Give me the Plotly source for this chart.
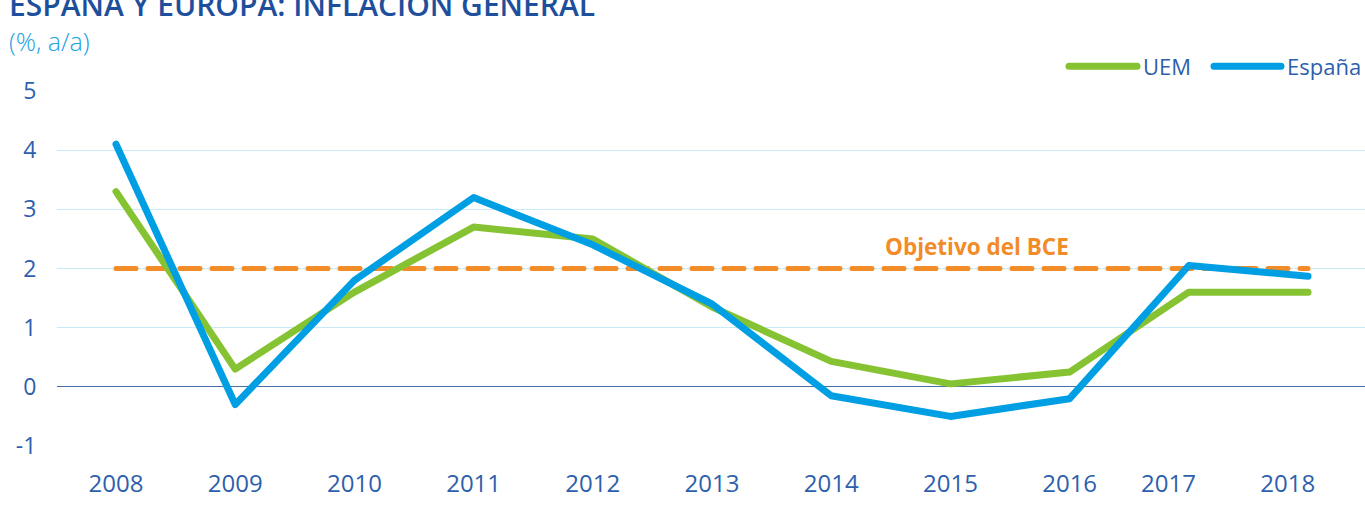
import plotly.graph_objects as go

years = [2008, 2009, 2010, 2011, 2012, 2013, 2014, 2015, 2016, 2017, 2018]
uem = [3.3, 0.3, 1.6, 2.7, 2.5, 1.35, 0.43, 0.05, 0.25, 1.6, 1.6]
espana = [4.1, -0.3, 1.8, 3.2, 2.4, 1.4, -0.15, -0.5, -0.2, 2.05, 1.87]
objetivo = [2.0] * len(years)

tick_vals = [2008, 2009, 2010, 2011, 2012, 2013, 2014, 2015, 2016, 2016.83, 2017.83]
tick_text = ["2008", "2009", "2010", "2011", "2012", "2013", "2014", "2015", "2016", "2017", "2018"]
y_ticks = [-1, 0, 1, 2, 3, 4, 5]
y_text = ["-1", "0", "1", "2", "3", "4", "5"]

GREEN = "#86c332"
BLUE = "#009fe3"
ORANGE = "#f28c28"
DARK = "#1e4f9c"
TICK = "#2e5fac"
FONT = "Open Sans"

fig = go.Figure()
fig.add_trace(go.Scatter(x=years, y=objetivo, mode="lines",
                         line=dict(color=ORANGE, width=5, dash="20px,12px"),
                         showlegend=False, hoverinfo="skip"))
fig.add_trace(go.Scatter(x=years, y=uem, mode="lines", name="UEM",
                         line=dict(color=GREEN, width=7), showlegend=False))
fig.add_trace(go.Scatter(x=years, y=espana, mode="lines", name="España",
                         line=dict(color=BLUE, width=7), showlegend=False))

fig.update_layout(
    width=1365, height=522,
    margin=dict(l=57, r=0, t=91, b=76),
    paper_bgcolor="white", plot_bgcolor="white",
    font=dict(family=FONT, color=TICK),
    xaxis=dict(range=[2007.505, 2018.478], tickmode="array", tickvals=tick_vals,
               ticktext=tick_text, showgrid=False, zeroline=False, showline=False,
               ticks="outside", ticklen=16, tickcolor="rgba(0,0,0,0)",
               tickfont=dict(size=24, color=TICK, family=FONT)),
    yaxis=dict(range=[-1, 5], tickmode="array", tickvals=y_ticks, ticktext=y_text,
               showgrid=True, gridcolor="#c9eaf8", gridwidth=1,
               zeroline=True, zerolinecolor="#4a6fa5", zerolinewidth=1,
               showline=False, ticks="outside", ticklen=15, tickcolor="rgba(0,0,0,0)",
               tickfont=dict(size=23, color=TICK, family=FONT)),
    showlegend=False,
)

# Title and subtitle
fig.add_annotation(text="ESPAÑA Y EUROPA: INFLACIÓN GENERAL", xref="paper", yref="paper",
                   x=-0.038, y=1.2435, xanchor="left", yanchor="middle", showarrow=False,
                   font=dict(size=30, color=DARK, family=FONT, weight=600))
fig.add_annotation(text="(%, a/a)", xref="paper", yref="paper",
                   x=-0.038, y=1.142, xanchor="left", yanchor="middle", showarrow=False,
                   font=dict(size=25, color="#1ba1e2", family=FONT, weight=300))

# Target label
fig.add_annotation(text="Objetivo del BCE", xref="x", yref="y", x=2015.22, y=2.37,
                   showarrow=False, font=dict(size=22.5, color=ORANGE, family=FONT, weight="bold"))

# Custom legend
leg_y = 1.070
def px2paper(px):
    return (px - 57) / 1308
for x0, x1, col, label, tx in [(1069, 1137, GREEN, "UEM", 1141), (1214, 1281, BLUE, "España", 1285)]:
    fig.add_shape(type="line", xref="paper", yref="paper", x0=px2paper(x0), x1=px2paper(x1),
                  y0=leg_y, y1=leg_y, line=dict(color=col, width=7))
    fig.add_annotation(text=label, xref="paper", yref="paper", x=px2paper(tx), y=leg_y,
                       xanchor="left", yanchor="middle", showarrow=False,
                       font=dict(size=22, color=TICK, family=FONT))

post = """
document.body.style.margin='0';
var st=document.createElement('style');
st.innerHTML='.js-line, .shapelayer path{stroke-linecap:round !important; stroke-linejoin:round !important;}';
document.head.appendChild(st);
"""
fig.write_html("out.html", post_script=post, config={"displayModeBar": False})
